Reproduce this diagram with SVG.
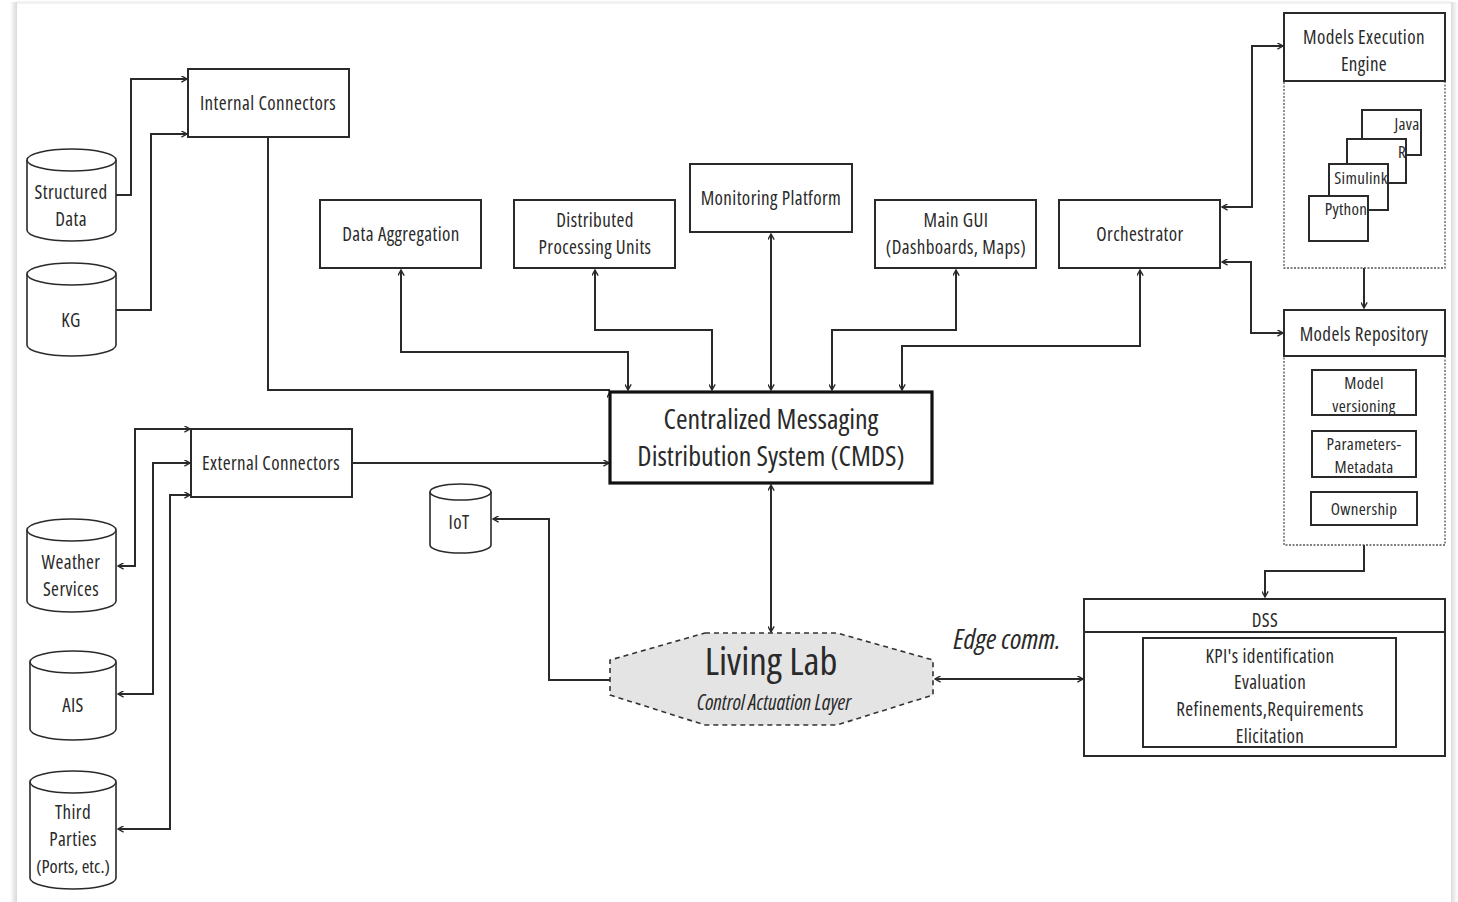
<svg xmlns="http://www.w3.org/2000/svg" width="1458" height="902" viewBox="0 0 1458 902">
  <style>
    text { font-family: "Open Sans", "Liberation Sans", sans-serif; font-stretch: 75%; fill: #2a2a2a; text-anchor: middle; }
    .t18 { font-size: 19px; letter-spacing: 0.4px; }
    .t16 { font-size: 17px; letter-spacing: 0.3px; }
    .t17 { font-size: 17px; letter-spacing: 0.3px; }
    .box { fill: #ffffff; stroke: #2a2a2a; stroke-width: 2; }
    .thick { fill: #ffffff; stroke: #111; stroke-width: 3.2; }
    .cyl { fill: #ffffff; stroke: #2a2a2a; stroke-width: 1.6; }
    .dot { fill: none; stroke: #555; stroke-width: 1.3; stroke-dasharray: 2 1.5; }
    .wire { fill: none; stroke: #2a2a2a; stroke-width: 2; }
  </style>
  <defs>
    <marker id="ah" viewBox="0 0 10 10" refX="9" refY="5" markerWidth="7" markerHeight="7" orient="auto-start-reverse" markerUnits="userSpaceOnUse">
      <path d="M1,0.5 L9,5 L1,9.5" fill="none" stroke="#2a2a2a" stroke-width="2"/>
    </marker>
    <linearGradient id="shadowL" x1="0" x2="1" y1="0" y2="0">
      <stop offset="0" stop-color="#ffffff"/>
      <stop offset="1" stop-color="#d9d9d9"/>
    </linearGradient>
    <linearGradient id="shadowR" x1="0" x2="1" y1="0" y2="0">
      <stop offset="0" stop-color="#dcdcdc"/>
      <stop offset="1" stop-color="#ffffff"/>
    </linearGradient>
  </defs>

  <!-- page -->
  <rect x="0" y="0" width="1458" height="902" fill="#ffffff"/>
  <rect x="10" y="2" width="7" height="900" fill="url(#shadowL)"/>
  <rect x="1451" y="2" width="7" height="900" fill="url(#shadowR)"/>
  <rect x="17" y="1" width="1434" height="3" fill="#f2f2f2"/>
  <rect x="17" y="4" width="1434" height="898" fill="#ffffff"/>

  <!-- connectors -->
  <g id="connectors">
    <path class="wire" d="M116,195 H131 V79 H187" marker-end="url(#ah)"/>
    <path class="wire" d="M116,310 H151 V134 H187" marker-end="url(#ah)"/>
    <path class="wire" d="M268,137 V390 H610"/>
    <path class="wire" d="M610,402 V392" marker-end="url(#ah)"/>

    <path class="wire" d="M118,566 H135 V429 H190" marker-start="url(#ah)" marker-end="url(#ah)"/>
    <path class="wire" d="M118,694 H153 V463 H190" marker-start="url(#ah)" marker-end="url(#ah)"/>
    <path class="wire" d="M118,829 H170 V495 H190" marker-start="url(#ah)" marker-end="url(#ah)"/>
    <path class="wire" d="M352,463 H609" marker-end="url(#ah)"/>

    <path class="wire" d="M401,270 V352 H628 V390" marker-start="url(#ah)" marker-end="url(#ah)"/>
    <path class="wire" d="M595,270 V330 H712 V390" marker-start="url(#ah)" marker-end="url(#ah)"/>
    <path class="wire" d="M771,234 V390" marker-start="url(#ah)" marker-end="url(#ah)"/>
    <path class="wire" d="M956,270 V330 H832 V390" marker-start="url(#ah)" marker-end="url(#ah)"/>
    <path class="wire" d="M1140,270 V346 H902 V390" marker-start="url(#ah)" marker-end="url(#ah)"/>

    <path class="wire" d="M1222,207 H1252 V46 H1283" marker-start="url(#ah)" marker-end="url(#ah)"/>
    <path class="wire" d="M1222,262 H1251 V333 H1283" marker-start="url(#ah)" marker-end="url(#ah)"/>
    <path class="wire" d="M1364,268 V308" marker-end="url(#ah)"/>
    <path class="wire" d="M1364,545 V571 H1265 V597" marker-end="url(#ah)"/>

    <path class="wire" d="M771,485 V632" marker-start="url(#ah)" marker-end="url(#ah)"/>
    <path class="wire" d="M610,680 H549 V519 H493" marker-end="url(#ah)"/>
    <path class="wire" d="M935,679 H1083" marker-start="url(#ah)" marker-end="url(#ah)"/>
  </g>

  <!-- data sources -->
  <g id="structured-data">
    <path class="cyl" d="M27,160 V230 A44.5,11 0 0 0 116,230 V160"/>
    <ellipse class="cyl" cx="71.5" cy="160" rx="44.5" ry="11"/>
    <text class="t18" x="71" y="199">Structured</text>
    <text class="t18" x="71" y="226">Data</text>
  </g>
  <g id="kg">
    <path class="cyl" d="M27,274 V345 A44.5,11 0 0 0 116,345 V274"/>
    <ellipse class="cyl" cx="71.5" cy="274" rx="44.5" ry="11"/>
    <text class="t18" x="71" y="327">KG</text>
  </g>
  <g id="weather-services">
    <path class="cyl" d="M27,530 V601 A44.5,11 0 0 0 116,601 V530"/>
    <ellipse class="cyl" cx="71.5" cy="530" rx="44.5" ry="11"/>
    <text class="t18" x="71" y="569">Weather</text>
    <text class="t18" x="71" y="596">Services</text>
  </g>
  <g id="ais">
    <path class="cyl" d="M30,662 V729 A43,11 0 0 0 116,729 V662"/>
    <ellipse class="cyl" cx="73" cy="662" rx="43" ry="11"/>
    <text class="t18" x="73" y="712">AIS</text>
  </g>
  <g id="third-parties">
    <path class="cyl" d="M30,782 V878 A43,11 0 0 0 116,878 V782"/>
    <ellipse class="cyl" cx="73" cy="782" rx="43" ry="11"/>
    <text class="t18" x="73" y="819">Third</text>
    <text class="t18" x="73" y="846">Parties</text>
    <text x="73" y="873" font-size="18.5">(Ports, etc.)</text>
  </g>
  <g id="iot">
    <path class="cyl" d="M430,492 V545 A30.5,8 0 0 0 491,545 V492"/>
    <ellipse class="cyl" cx="460.5" cy="492" rx="30.5" ry="8"/>
    <text class="t18" x="459" y="529">IoT</text>
  </g>

  <!-- connectors blocks -->
  <g id="internal-connectors">
    <rect class="box" x="188" y="69" width="161" height="68"/>
    <text class="t18" x="268" y="110">Internal Connectors</text>
  </g>
  <g id="external-connectors">
    <rect class="box" x="191" y="429" width="161" height="68"/>
    <text class="t18" x="271" y="470">External Connectors</text>
  </g>

  <!-- services row -->
  <g id="data-aggregation">
    <rect class="box" x="320" y="200" width="161" height="68"/>
    <text class="t18" x="401" y="241">Data Aggregation</text>
  </g>
  <g id="distributed-processing-units">
    <rect class="box" x="514" y="200" width="161" height="68"/>
    <text class="t18" x="595" y="227">Distributed</text>
    <text class="t18" x="595" y="254">Processing Units</text>
  </g>
  <g id="monitoring-platform">
    <rect class="box" x="690" y="164" width="162" height="68"/>
    <text class="t18" x="771" y="205">Monitoring Platform</text>
  </g>
  <g id="main-gui">
    <rect class="box" x="875" y="200" width="161" height="68"/>
    <text class="t18" x="956" y="227">Main GUI</text>
    <text class="t18" x="956" y="254">(Dashboards, Maps)</text>
  </g>
  <g id="orchestrator">
    <rect class="box" x="1059" y="200" width="161" height="68"/>
    <text class="t18" x="1140" y="241">Orchestrator</text>
  </g>

  <!-- central bus -->
  <g id="cmds">
    <rect class="thick" x="610" y="392" width="322" height="91"/>
    <text x="771" y="429" font-size="28">Centralized Messaging</text>
    <text x="771" y="466" font-size="28">Distribution System (CMDS)</text>
  </g>

  <!-- model execution -->
  <g id="models-execution-engine">
    <rect class="dot" x="1284" y="81" width="161" height="187"/>
    <rect class="box" x="1284" y="13" width="161" height="68"/>
    <text class="t18" x="1364" y="44">Models Execution</text>
    <text class="t18" x="1364" y="71">Engine</text>
    <rect class="box" x="1362" y="110" width="59" height="45" stroke-width="1.6"/>
    <text class="t16" x="1407" y="130">Java</text>
    <rect class="box" x="1347" y="139" width="59" height="44" stroke-width="1.6"/>
    <text class="t16" x="1402" y="158">R</text>
    <rect class="box" x="1329" y="164" width="59" height="46" stroke-width="1.6"/>
    <text class="t16" x="1361" y="184">Simulink</text>
    <rect class="box" x="1309" y="196" width="59" height="45" stroke-width="1.6"/>
    <text class="t16" x="1346" y="215">Python</text>
  </g>

  <g id="models-repository">
    <rect class="dot" x="1284" y="356" width="161" height="189"/>
    <rect class="box" x="1284" y="310" width="161" height="46"/>
    <text class="t18" x="1364" y="341">Models Repository</text>
    <rect class="box" x="1312" y="370" width="104" height="45"/>
    <text class="t17" x="1364" y="389">Model</text>
    <text class="t17" x="1364" y="412">versioning</text>
    <rect class="box" x="1312" y="431" width="104" height="46"/>
    <text class="t17" x="1364" y="450">Parameters-</text>
    <text class="t17" x="1364" y="473">Metadata</text>
    <rect class="box" x="1311" y="492" width="106" height="33"/>
    <text class="t17" x="1364" y="515">Ownership</text>
  </g>

  <g id="dss">
    <rect class="box" x="1084" y="599" width="361" height="157"/>
    <line x1="1084" y1="632" x2="1445" y2="632" stroke="#2a2a2a" stroke-width="2"/>
    <text class="t18" x="1265" y="627">DSS</text>
    <rect class="box" x="1143" y="638" width="253" height="109"/>
    <text class="t18" x="1270" y="663">KPI's identification</text>
    <text class="t18" x="1270" y="689">Evaluation</text>
    <text class="t18" x="1270" y="716">Refinements,Requirements</text>
    <text class="t18" x="1270" y="743">Elicitation</text>
  </g>

  <g id="living-lab">
    <polygon points="705,633 837,633 933,660 933,695 837,725 705,725 610,695 610,660" fill="#e4e4e4" stroke="#333" stroke-width="1.6" stroke-dasharray="5 4"/>
    <text x="771" y="675" font-size="39">Living Lab</text>
    <text x="774" y="710" font-size="21" font-style="italic">Control Actuation Layer</text>
  </g>

  <text x="1007" y="649" font-size="28" font-style="italic">Edge comm.</text>
</svg>
